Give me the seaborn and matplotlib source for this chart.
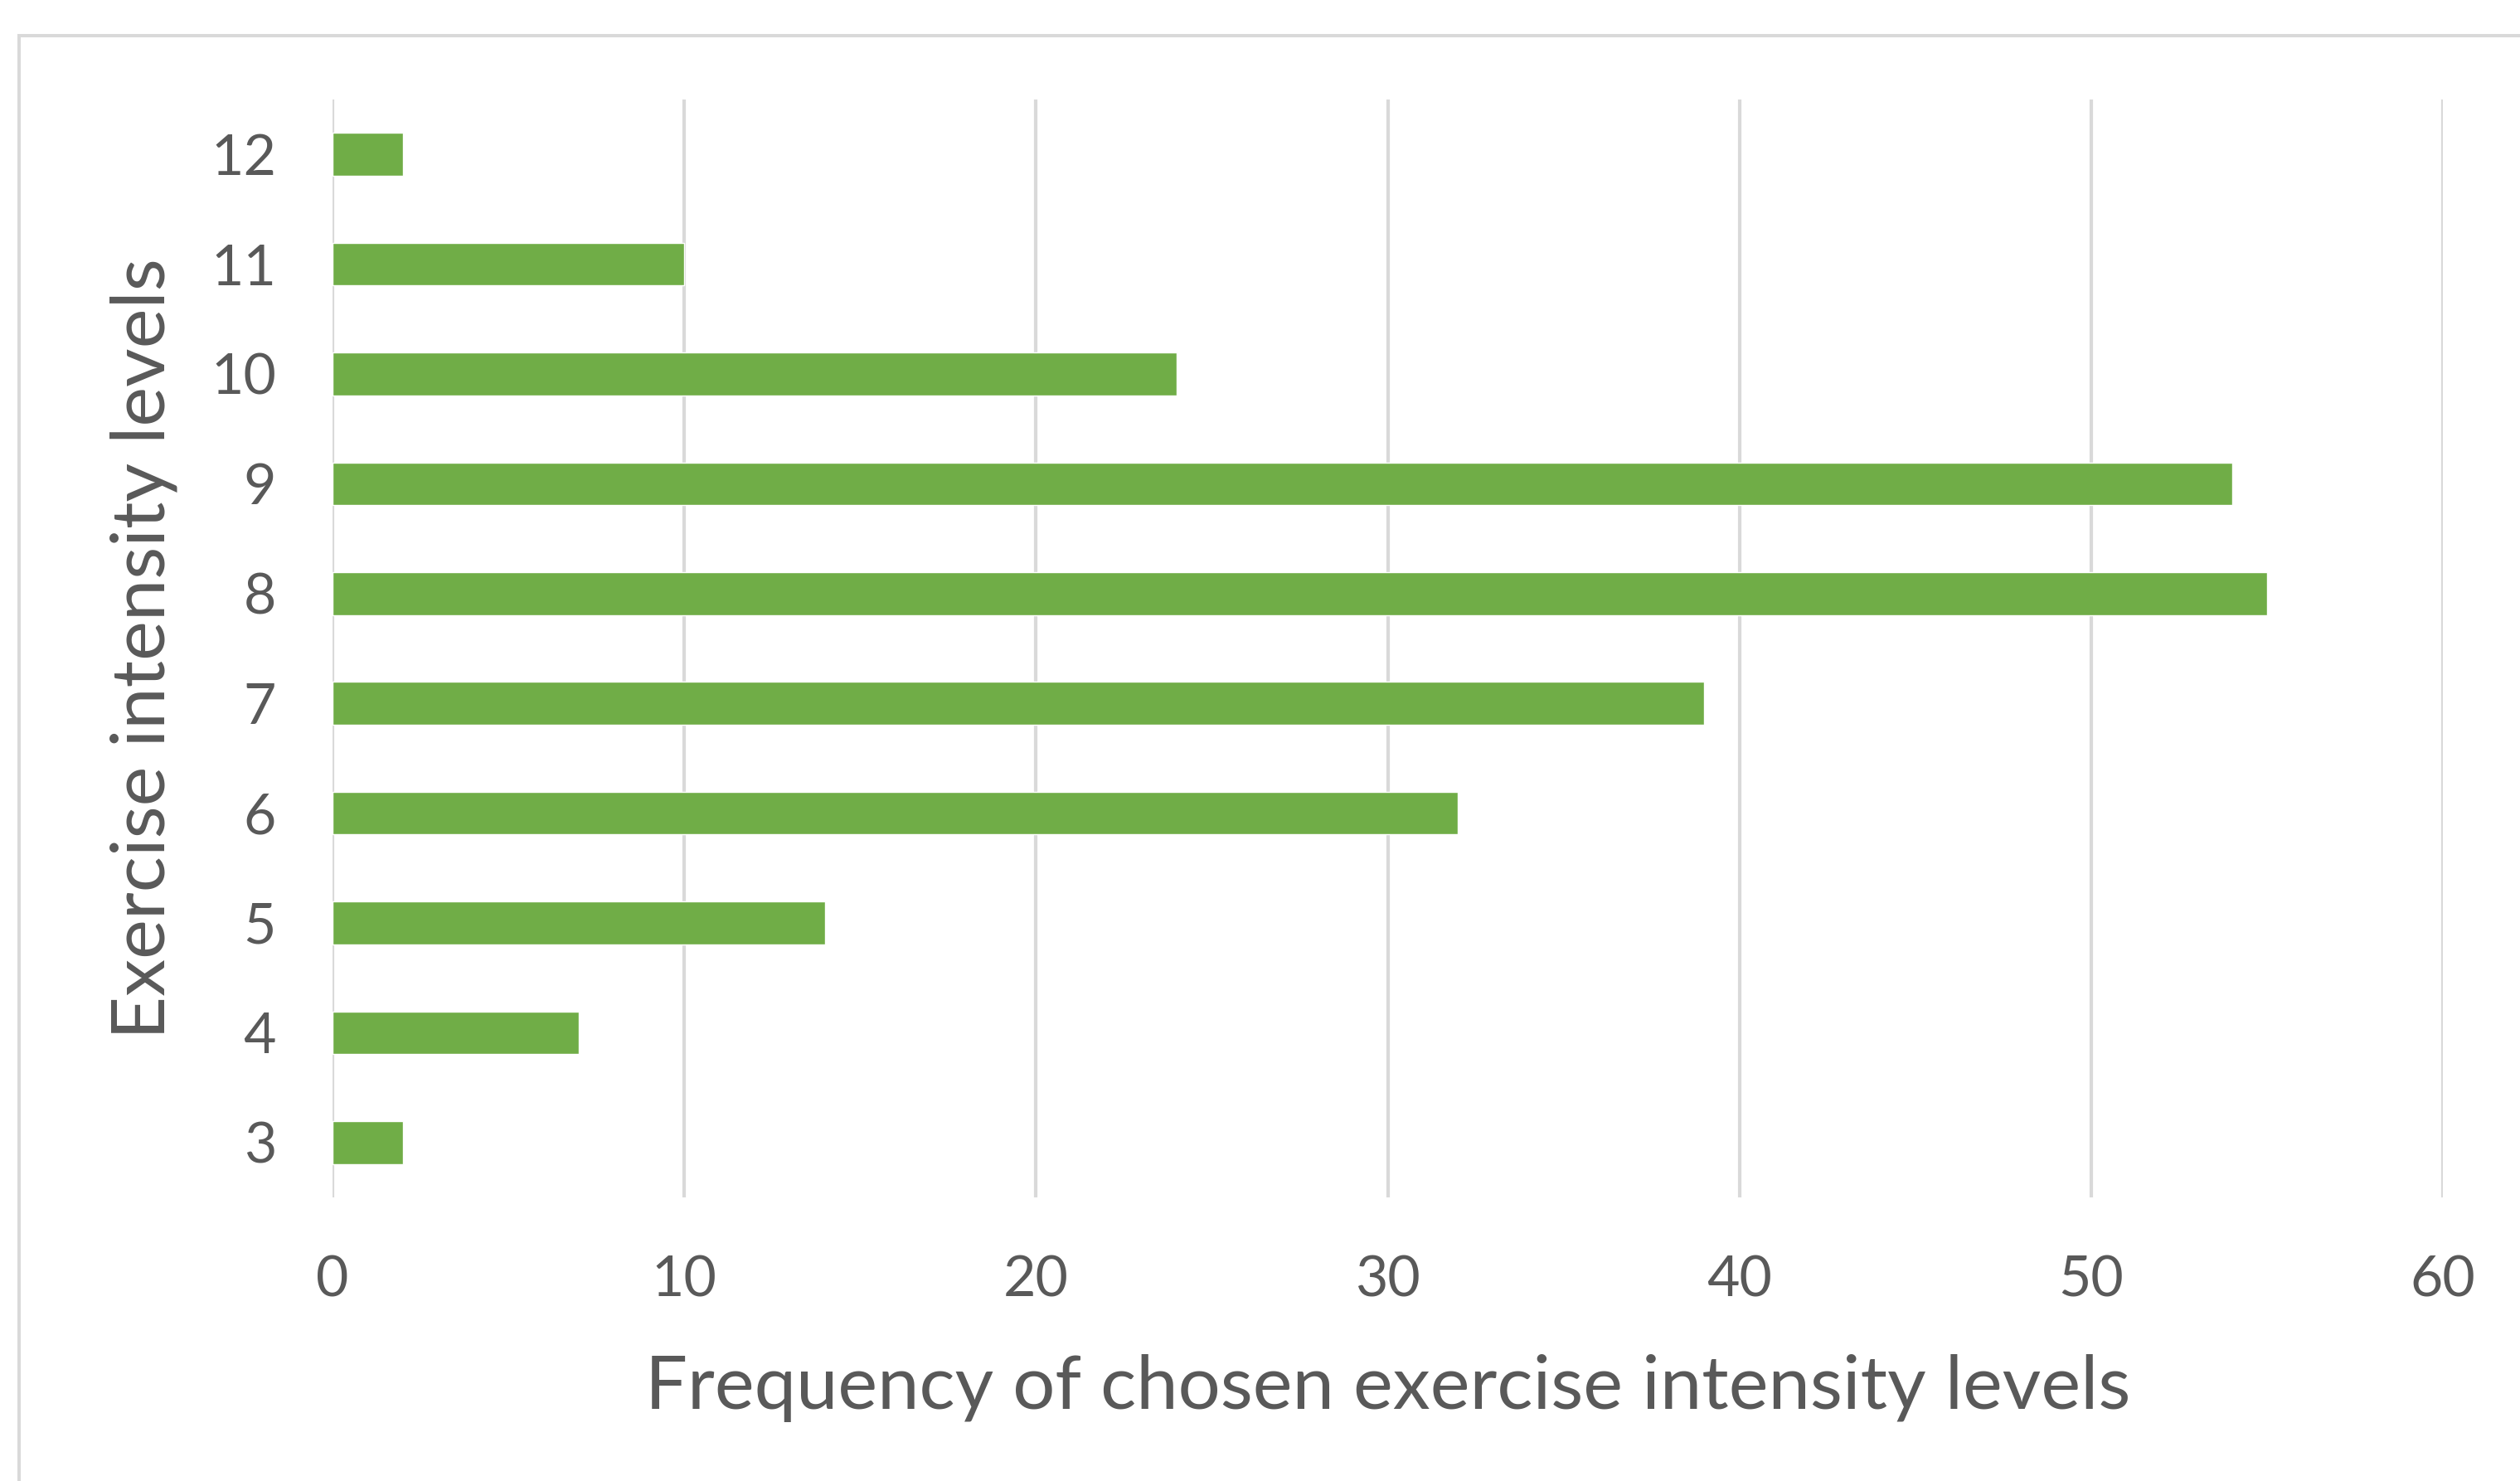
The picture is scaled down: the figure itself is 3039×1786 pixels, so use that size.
import matplotlib
matplotlib.use("Agg")
import matplotlib.pyplot as plt
import seaborn as sns
import pandas as pd
from matplotlib.patches import Rectangle

# Data
levels = ["12", "11", "10", "9", "8", "7", "6", "5", "4", "3"]
frequency = [2, 10, 24, 54, 55, 39, 32, 14, 7, 2]
x_ticks = [0, 10, 20, 30, 40, 50, 60]

df = pd.DataFrame({"level": levels, "frequency": frequency})

sns.set_theme(style="white")
plt.rcParams["font.family"] = ["Lato", "DejaVu Sans"]

W, H, DPI = 3039, 1786, 100
fig = plt.figure(figsize=(W / DPI, H / DPI), dpi=DPI)
ax = fig.add_axes([401 / W, 1 - 1444 / H, (2946 - 401) / W, (1444 - 120) / H])

sns.barplot(data=df, x="frequency", y="level", order=levels, orient="h",
            color="#70AD47", saturation=1, width=0.39, ax=ax, zorder=3)

grid_c = "#D9D9D9"
text_c = "#595959"
ax.set_xlim(0, 60)
ax.set_ylim(9.5, -0.5)
ax.set_xticks(x_ticks)
ax.xaxis.grid(True, color=grid_c, linewidth=3.0, zorder=0)
ax.yaxis.grid(False)
ax.set_axisbelow(True)
for s in ax.spines.values():
    s.set_visible(False)
ax.tick_params(axis="both", length=0, labelsize=49, labelcolor=text_c)
ax.tick_params(axis="x", pad=50)
ax.tick_params(axis="y", pad=49)

ax.set_xlabel("Frequency of chosen exercise intensity levels", fontsize=65, color=text_c)
ax.set_ylabel("Exercise intensity levels", fontsize=65, color=text_c)
ax.xaxis.label.set_va("center")
ax.yaxis.label.set_va("center")
ax.xaxis.set_label_coords(0.5, (1 - 1674 / H - (1 - 1444 / H)) / ((1444 - 120) / H))
ax.yaxis.set_label_coords((174 - 401) / (2946 - 401), 0.5)

# outer chart frame (left and top edges visible)
frame = Rectangle((23 / W, -0.2), 1.5, 1.2 - 43 / H, transform=fig.transFigure,
                  fill=False, edgecolor=grid_c, linewidth=2.9, clip_on=False)
fig.patches.append(frame)

fig.savefig("out.png", dpi=DPI)
